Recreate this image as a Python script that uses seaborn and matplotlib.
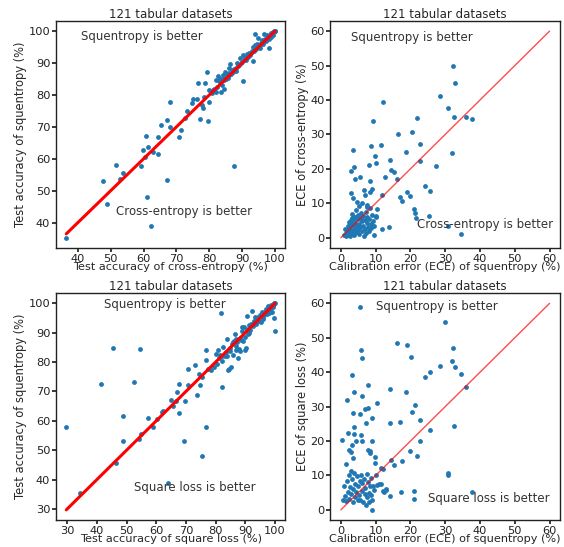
import numpy as np
import pandas as pd
import seaborn as sns
import matplotlib.pyplot as plt
from matplotlib.ticker import MultipleLocator

# test accuracy: (cross-entropy, squentropy), 121 datasets
acc_ce_sq = np.array([
    (36.5, 35.3), (47.7, 53.0), (48.8, 45.9), (51.6, 58.0), (52.8, 53.7), (53.7, 55.7), (59.1, 57.7), (59.8, 62.7),
    (60.5, 60.6), (60.7, 67.1), (61.3, 63.6), (61.1, 48.1), (62.3, 38.9), (62.8, 62.2), (64.3, 61.6), (64.4, 66.7),
    (65.2, 70.7), (67.1, 53.5), (67.1, 72.2), (68.2, 77.7), (68.2, 69.9), (70.8, 66.7), (71.5, 69.1), (72.5, 72.8),
    (73.2, 74.9), (74.7, 77.6), (75.0, 78.7), (76.2, 78.8), (76.7, 83.9), (77.3, 72.4), (77.7, 77.0), (78.0, 76.0),
    (78.4, 79.4), (79.2, 87.1), (78.8, 83.7), (79.7, 71.8), (80.0, 77.9), (79.8, 81.7), (87.4, 57.7), (90.2, 84.3),
    (93.3, 90.6), (93.9, 99.2), (98.3, 94.8),
    (80.8, 80.5), (81.5, 82.0), (82.0, 81.0), (82.5, 82.6), (82.8, 86.0), (83.1, 84.3), (83.3, 85.0), (83.6, 80.8),
    (83.9, 83.2), (84.1, 86.4), (84.3, 85.4), (84.6, 84.7), (84.9, 87.3), (85.0, 84.9), (85.3, 86.1), (85.6, 85.4),
    (85.9, 88.5), (86.1, 87.0), (86.4, 89.6), (86.6, 86.6), (86.9, 87.8), (87.2, 87.1), (87.6, 88.0), (88.0, 87.4),
    (88.4, 90.1), (88.7, 89.0), (89.0, 89.5), (89.5, 91.6), (89.8, 89.9), (90.3, 92.5), (90.6, 90.8), (91.0, 91.5),
    (91.3, 91.0), (91.7, 92.0), (92.1, 93.2), (92.4, 92.6), (92.8, 93.0), (93.0, 93.9), (93.4, 94.9), (93.7, 93.8),
    (94.0, 95.8), (94.3, 94.5), (94.6, 96.0), (94.8, 97.9), (95.0, 95.1), (95.3, 95.8), (95.6, 96.4), (95.9, 97.3),
    (96.2, 96.1), (96.5, 96.9), (96.8, 99.0), (97.0, 97.4), (97.3, 97.0), (97.7, 98.7), (97.9, 98.0), (98.1, 97.6),
    (98.4, 98.9), (98.7, 99.5), (98.9, 98.3), (99.2, 99.3), (99.4, 98.8), (99.7, 100.0), (99.8, 99.7), (100.0, 100.0),
    (100.0, 99.9), (99.5, 99.6), (98.0, 98.4), (96.0, 96.7), (92.0, 92.7), (88.2, 88.6), (86.0, 86.3), (81.0, 81.7),
    (82.2, 84.8), (84.4, 81.8), (90.0, 90.4), (91.5, 92.9), (95.4, 94.6), (97.5, 97.9),
])

# ECE: (squentropy, cross-entropy)
ece_sq_ce = np.array([
    (32.3, 49.8), (32.9, 45.0), (28.6, 41.1), (12.0, 39.4), (30.9, 37.8), (32.4, 35.0), (21.9, 34.7), (36.1, 35.1),
    (37.6, 34.6), (9.2, 33.8), (16.5, 30.2), (20.5, 30.6), (3.5, 25.5), (8.7, 26.7), (11.4, 26.9), (22.7, 27.2),
    (32.0, 24.6), (18.8, 24.8), (14.2, 22.7), (22.6, 22.4), (9.8, 23.6), (10.1, 21.7), (8.1, 21.2), (27.3, 20.7),
    (3.9, 20.5), (3.0, 19.3), (14.3, 19.7), (15.4, 19.1), (12.7, 17.5), (16.0, 16.9), (5.6, 17.5), (4.2, 16.9),
    (8.3, 16.4), (24.2, 15.0), (25.6, 13.7), (18.9, 13.2), (20.0, 12.0), (17.0, 11.8), (17.5, 10.6), (9.0, 14.2),
    (7.0, 12.5), (2.9, 13.0), (11.9, 12.5), (21.0, 8.4), (21.4, 7.2), (21.7, 5.7), (25.3, 6.2), (11.7, 2.6),
    (13.9, 3.1), (30.8, 3.4), (34.6, 1.2), (9.6, 0.9), (10.3, 8.3), (10.2, 6.2), (4.6, 10.4), (3.5, 11.4),
    (7.5, 8.9), (6.6, 13.8), (8.5, 13.3),
    (1.0, 0.8), (1.5, 1.5), (1.8, 0.9), (2.0, 2.2), (2.2, 1.2), (2.4, 3.0), (2.5, 0.6), (2.7, 1.9), (2.8, 4.1),
    (3.0, 2.5), (3.1, 5.6), (3.2, 1.0), (3.4, 3.6), (3.5, 2.0), (3.6, 4.9), (3.8, 0.8), (3.9, 6.1), (4.0, 2.9),
    (4.2, 4.3), (4.3, 1.6), (4.5, 5.4), (4.6, 3.4), (4.8, 2.3), (5.0, 6.6), (5.1, 4.0), (5.3, 1.2), (5.5, 5.8),
    (5.6, 3.0), (5.8, 7.2), (6.0, 2.0), (6.1, 4.8), (6.3, 6.4), (6.5, 3.5), (6.6, 0.6), (6.8, 5.2), (7.0, 2.6),
    (7.1, 7.6), (7.3, 1.5), (7.5, 4.4), (7.6, 6.0), (7.8, 3.2), (8.0, 1.9), (8.2, 5.5), (8.4, 8.6), (8.6, 4.0),
    (8.8, 2.8), (9.0, 6.7), (9.3, 4.7), (9.6, 3.5), (10.0, 5.9), (1.2, 2.6), (2.3, 4.5), (3.3, 6.8), (4.4, 7.9),
    (5.2, 9.3), (6.2, 10.1), (2.0, 3.5), (2.9, 5.0), (4.1, 5.9), (5.9, 5.0), (7.4, 9.4), (1.6, 0.4),
])

# test accuracy: (square loss, squentropy)
acc_sl_sq = np.array([
    (29.7, 57.8), (34.3, 35.5), (41.5, 72.7), (45.3, 84.8), (54.5, 84.4), (52.6, 73.2), (48.7, 61.7), (48.7, 53.0),
    (46.3, 45.8), (54.3, 53.8), (54.7, 55.6), (57.1, 61.1), (58.8, 58.0), (60.4, 60.7), (62.3, 63.5), (62.1, 62.9),
    (63.9, 39.0), (64.9, 67.2), (65.7, 65.2), (66.6, 66.9), (67.1, 69.8), (67.8, 72.4), (67.8, 62.7), (69.5, 53.3),
    (69.8, 66.9), (70.6, 77.8), (70.6, 72.1), (73.0, 78.9), (73.7, 68.9), (74.3, 75.9), (74.6, 72.2), (75.4, 74.9),
    (75.5, 48.1), (76.6, 57.8), (76.7, 84.0), (76.6, 80.6), (77.3, 77.8), (78.5, 77.2), (79.5, 78.3), (80.0, 82.8),
    (80.9, 84.0), (82.0, 71.5), (81.9, 96.8), (86.8, 84.0), (90.0, 84.0), (92.2, 97.5), (90.4, 95.8), (99.5, 95.0),
    (100.0, 90.7),
    (80.5, 79.5), (81.0, 81.5), (81.5, 82.4), (82.0, 80.2), (82.5, 85.0), (83.0, 82.0), (83.5, 83.3), (84.0, 87.8),
    (84.3, 77.2), (84.6, 77.8), (84.9, 83.6), (85.2, 78.4), (85.5, 86.0), (85.8, 86.8), (86.0, 82.4), (86.3, 87.1),
    (86.6, 89.7), (86.9, 85.5), (87.2, 87.0), (87.5, 81.5), (87.8, 84.5), (88.1, 88.3), (88.3, 83.6), (88.6, 87.4),
    (89.0, 91.8), (89.3, 87.2), (89.7, 92.1), (89.9, 88.5), (90.2, 84.7), (90.5, 90.9), (90.8, 91.4), (91.1, 90.0),
    (91.4, 92.5), (91.7, 91.0), (92.0, 93.0), (92.5, 92.3), (93.0, 94.0), (93.4, 95.2), (93.8, 94.8), (94.2, 95.3),
    (94.6, 94.0), (95.0, 96.0), (95.4, 93.7), (95.9, 94.6), (96.3, 96.0), (96.7, 97.0), (97.0, 98.2), (97.3, 96.5),
    (97.6, 99.0), (97.9, 97.4), (98.2, 98.0), (98.5, 98.8), (98.8, 99.3), (99.0, 97.2), (99.3, 99.5), (99.6, 100.0),
    (99.8, 99.8), (100.0, 100.0), (98.0, 96.8), (96.0, 95.5), (94.0, 93.5), (92.8, 93.8), (91.0, 89.6), (88.8, 90.5),
    (87.0, 88.0), (85.0, 84.8), (83.8, 82.0), (82.3, 82.0), (97.5, 98.5), (99.4, 98.7), (95.7, 96.9), (93.6, 93.0),
])

# ECE: (squentropy, square loss)
ece_sq_sl = np.array([
    (5.4, 59.0), (30.0, 54.7), (16.0, 48.5), (19.1, 47.8), (32.3, 47.0), (5.9, 46.3), (6.2, 44.0), (20.2, 44.3),
    (32.0, 43.3), (32.9, 41.5), (28.6, 41.7), (25.5, 40.1), (24.3, 38.6), (34.6, 39.6), (3.1, 39.3), (7.7, 36.4),
    (36.0, 35.7), (14.1, 35.2), (3.7, 34.2), (18.8, 34.3), (6.0, 33.1), (1.9, 31.8), (10.3, 31.0), (21.3, 30.4),
    (7.9, 29.6), (7.0, 29.4), (8.9, 26.8), (3.6, 28.0), (5.5, 27.9), (20.4, 28.3), (22.6, 26.0), (14.2, 25.3),
    (17.1, 25.4), (7.2, 25.2), (25.6, 23.2), (3.9, 24.0), (2.0, 22.4), (5.8, 21.8), (3.8, 22.0), (0.4, 20.4),
    (4.3, 20.0), (6.2, 19.9), (9.0, 20.1), (22.8, 20.1), (3.3, 18.9), (19.8, 17.1), (2.2, 17.3), (2.9, 16.7),
    (7.8, 17.5), (8.5, 17.2), (8.3, 16.4), (3.5, 15.0), (21.9, 15.7), (9.7, 15.3), (9.9, 13.5), (1.4, 13.2),
    (15.3, 13.0), (17.5, 14.3), (11.5, 12.1), (14.3, 14.5), (30.9, 10.7), (30.9, 10.1), (32.4, 24.5), (37.6, 5.1),
    (21.1, 5.5), (21.0, 3.3), (17.3, 5.3), (14.1, 3.9), (12.1, 5.5), (13.1, 6.0), (11.4, 7.5), (9.0, 0.0),
    (0.7, 2.8), (1.0, 6.8), (1.2, 4.0), (1.5, 2.5), (1.8, 8.5), (2.0, 5.3), (2.2, 10.0), (2.4, 3.3), (2.6, 6.5),
    (2.8, 11.3), (3.0, 4.6), (3.2, 8.9), (3.4, 2.2), (3.6, 6.0), (3.8, 10.6), (4.0, 3.8), (4.2, 7.4), (4.4, 5.1),
    (4.6, 9.7), (4.8, 2.8), (5.0, 6.9), (5.2, 4.2), (5.4, 8.3), (5.6, 3.0), (5.8, 10.2), (6.0, 5.6), (6.2, 7.8),
    (6.4, 2.4), (6.6, 9.0), (6.8, 4.7), (7.0, 6.3), (7.2, 1.4), (7.4, 10.3), (7.6, 3.6), (7.8, 8.1), (8.0, 5.0),
    (8.2, 2.3), (8.4, 6.8), (8.6, 9.4), (8.8, 4.3), (9.0, 3.0), (9.3, 7.0), (9.6, 5.7), (10.0, 10.2), (10.5, 7.2),
    (11.0, 7.5), (12.0, 12.0), (12.5, 5.2), (13.0, 5.9),
])

ece_diag = [0, 60]
title = "121 tabular datasets"

panels = [
    dict(data=acc_ce_sq, xlabel="Test accuracy of cross-entropy (%)", ylabel="Test accuracy of squentropy (%)",
         acc=True, top=("Squentropy is better", 41, 98.4), bottom=("Cross-entropy is better", 51.7, 43.4)),
    dict(data=ece_sq_ce, xlabel="Calibration error (ECE) of squentropy (%)", ylabel="ECE of cross-entropy (%)",
         acc=False, top=("Squentropy is better", 3.0, 58.1), bottom=("Cross-entropy is better", 21.8, 3.8)),
    dict(data=acc_sl_sq, xlabel="Test accuracy of square loss (%)", ylabel="Test accuracy of squentropy (%)",
         acc=True, top=("Squentropy is better", 42.4, 99.7), bottom=("Square loss is better", 52.5, 37.3)),
    dict(data=ece_sq_sl, xlabel="Calibration error (ECE) of squentropy (%)", ylabel="ECE of square loss (%)",
         acc=False, top=("Squentropy is better", 10.1, 59.2), bottom=("Square loss is better", 25.1, 3.4)),
]

sns.set_theme(style="ticks", rc={"axes.edgecolor": "#222222", "axes.linewidth": 1.0,
                                 "xtick.color": "#222222", "ytick.color": "#222222"})
plt.rcParams['font.family'] = ['DejaVu Sans']

fig, axes = plt.subplots(2, 2, figsize=(5.64, 5.47), dpi=100)
fig.subplots_adjust(left=0.099, right=0.993, top=0.962, bottom=0.049, wspace=0.196, hspace=0.198)

for ax, p in zip(axes.flat, panels):
    df = pd.DataFrame(p["data"], columns=["x", "y"])
    sns.scatterplot(data=df, x="x", y="y", ax=ax, s=12, color="#1f77b4", linewidth=0)
    if p["acc"]:
        sns.lineplot(x=df["x"], y=df["x"], ax=ax, color="red", linewidth=2.2)
    else:
        sns.lineplot(x=ece_diag, y=ece_diag, ax=ax, color="red", linewidth=1, alpha=0.7)
    ax.xaxis.set_major_locator(MultipleLocator(10))
    ax.yaxis.set_major_locator(MultipleLocator(10))
    ax.set_title(title, fontsize=8.5, pad=2)
    ax.set_xlabel(p["xlabel"], fontsize=8.1, labelpad=-1)
    ax.set_ylabel(p["ylabel"], fontsize=8.3, labelpad=1)
    ax.tick_params(labelsize=8.2, length=3, pad=1)
    for txt, tx, ty in (p["top"], p["bottom"]):
        ax.text(tx, ty, txt, fontsize=8.5, va="center", color="#333333")

fig.savefig("out.png", dpi=100)
